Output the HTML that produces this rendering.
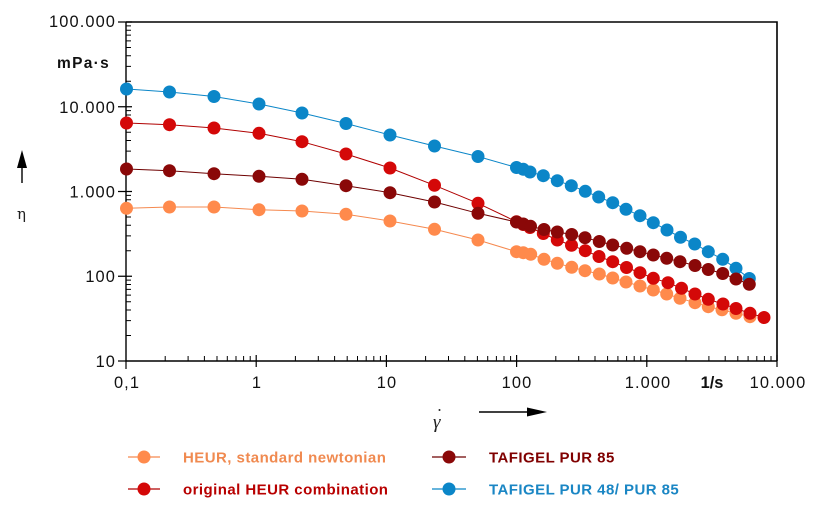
<!DOCTYPE html>
<html><head><meta charset="utf-8"><style>
html,body{margin:0;padding:0;background:#fff;width:824px;height:512px;overflow:hidden}
svg{display:block}
.tl{font-family:"Liberation Sans",Arial,sans-serif;font-size:16.4px;fill:#111;letter-spacing:1.1px}
.lg{font-family:"Liberation Sans",Arial,sans-serif;font-size:15px;font-weight:bold;letter-spacing:0.45px}
</style></head><body>
<svg width="824" height="512" viewBox="0 0 824 512" xmlns="http://www.w3.org/2000/svg">
<rect width="824" height="512" fill="#fff"/>
<!-- frame -->
<path d="M126 22 H777 V361" fill="none" stroke="#000" stroke-width="1.6"/>
<path d="M126 22 V361 H777" fill="none" stroke="#000" stroke-width="1.4"/>
<!-- y major ticks -->
<path d="M118 22h14M118 106.75h14M118 191.5h14M118 276.25h14M118 361h8" stroke="#000" stroke-width="1.2"/>
<!-- y minor ticks -->
<path stroke="#000" stroke-width="1" d="M126 335.5h5M126 320.6h5M126 310h5M126 301.8h5M126 295.1h5M126 289.4h5M126 284.5h5M126 280.1h5
M126 250.75h5M126 235.85h5M126 225.25h5M126 217.05h5M126 210.35h5M126 204.65h5M126 199.75h5M126 195.35h5
M126 166h5M126 151.1h5M126 140.5h5M126 132.3h5M126 125.6h5M126 119.9h5M126 115h5M126 110.6h5
M126 81.25h5M126 66.35h5M126 55.75h5M126 47.55h5M126 40.85h5M126 35.15h5M126 30.25h5M126 25.85h5"/>
<!-- x major ticks -->
<path d="M126 361v8M256.2 355v12M386.4 355v12M516.6 355v12M646.8 355v12M777 355v12" stroke="#000" stroke-width="1.2"/>
<!-- x minor ticks -->
<path stroke="#000" stroke-width="1" d="M165.2 361v-5M188.1 361v-5M204.4 361v-5M217 361v-5M227.3 361v-5M236 361v-5M243.6 361v-5M250.2 361v-5
M295.4 361v-5M318.3 361v-5M334.6 361v-5M347.2 361v-5M357.5 361v-5M366.2 361v-5M373.8 361v-5M380.4 361v-5
M425.6 361v-5M448.5 361v-5M464.8 361v-5M477.4 361v-5M487.7 361v-5M496.4 361v-5M504 361v-5M510.6 361v-5
M555.8 361v-5M578.7 361v-5M595 361v-5M607.6 361v-5M617.9 361v-5M626.6 361v-5M634.2 361v-5M640.8 361v-5
M686 361v-5M708.9 361v-5M725.2 361v-5M737.8 361v-5M748.1 361v-5M756.8 361v-5M764.4 361v-5M771 361v-5"/>
<!-- y tick labels -->
<g class="tl" text-anchor="end">
<text x="116" y="27">100.000</text>
<text x="116" y="113">10.000</text>
<text x="116" y="197.5">1.000</text>
<text x="116" y="282">100</text>
<text x="116" y="367">10</text>
</g>
<text x="57" y="68" font-family="Liberation Sans,Arial,sans-serif" font-size="15.5" font-weight="bold" letter-spacing="1.3" fill="#111">mPa·s</text>
<!-- x tick labels -->
<g class="tl" text-anchor="middle">
<text x="127" y="388">0,1</text>
<text x="257" y="388">1</text>
<text x="387" y="388">10</text>
<text x="517" y="388">100</text>
<text x="648" y="388">1.000</text>
<text x="778" y="388">10.000</text>
</g>
<text x="712" y="388" text-anchor="middle" font-family="Liberation Sans,Arial,sans-serif" font-size="16.4" font-weight="bold" fill="#111">1/s</text>
<!-- y axis symbol -->
<path d="M22 183V165" stroke="#000" stroke-width="1.4"/>
<path d="M17 168L22 150L27 168Z" fill="#000"/>
<text x="17" y="219" font-family="DejaVu Serif,Liberation Serif,serif" font-size="15" fill="#222">η</text>
<!-- x axis symbol -->
<text x="433" y="428" font-family="Liberation Serif,serif" font-style="italic" font-size="19" fill="#222">γ</text>
<circle cx="439.5" cy="410" r="1" fill="#222"/>
<path d="M479 412H530" stroke="#000" stroke-width="1.4"/>
<path d="M527 407.5L547 412L527 416.5Z" fill="#000"/>

<!-- series: orange -->
<g fill="#ff8a4c" stroke="none">
<polyline fill="none" stroke="#f5894f" stroke-width="1" points="126.5,208.3 169.5,207 214,207 259,209.7 302,211 346,214.3 390,221 434.5,229.3 478,240 516.5,251.7 523.3,252.7 530.7,254.3 544,259.3 557.3,263.3 571.7,267.3 585,270.7 599.3,274 612.7,278 626,282 640,286 653.3,290 666.7,294 680,298.3 695,302.7 708.3,306.7 722,309.8 736,313.3 750,316.7"/>
<circle cx="126.5" cy="208.3" r="6.5"/><circle cx="169.5" cy="207" r="6.5"/><circle cx="214" cy="207" r="6.5"/><circle cx="259" cy="209.7" r="6.5"/><circle cx="302" cy="211" r="6.5"/><circle cx="346" cy="214.3" r="6.5"/><circle cx="390" cy="221" r="6.5"/><circle cx="434.5" cy="229.3" r="6.5"/><circle cx="478" cy="240" r="6.5"/><circle cx="516.5" cy="251.7" r="6.5"/><circle cx="523.3" cy="252.7" r="6.5"/><circle cx="530.7" cy="254.3" r="6.5"/><circle cx="544" cy="259.3" r="6.5"/><circle cx="557.3" cy="263.3" r="6.5"/><circle cx="571.7" cy="267.3" r="6.5"/><circle cx="585" cy="270.7" r="6.5"/><circle cx="599.3" cy="274" r="6.5"/><circle cx="612.7" cy="278" r="6.5"/><circle cx="626" cy="282" r="6.5"/><circle cx="640" cy="286" r="6.5"/><circle cx="653.3" cy="290" r="6.5"/><circle cx="666.7" cy="294" r="6.5"/><circle cx="680" cy="298.3" r="6.5"/><circle cx="695" cy="302.7" r="6.5"/><circle cx="708.3" cy="306.7" r="6.5"/><circle cx="722" cy="309.8" r="6.5"/><circle cx="736" cy="313.3" r="6.5"/><circle cx="750" cy="316.7" r="6.5"/>
</g>
<!-- series: blue -->
<g fill="#0b86c8" stroke="none">
<polyline fill="none" stroke="#0b86c8" stroke-width="1" points="126.5,89 169.5,92 214,96.5 259,104 302,113 346,123.5 390,135 434.5,146 478,156.5 516.5,167.5 523.3,169.3 530,172 543.3,175.7 557.3,180.7 571.3,185.7 585.3,191.3 598.7,197 612.7,202.7 626,209.3 640,215.7 653.3,222.7 667,230 680.5,237.3 694.7,244 708.3,251.7 722.7,259.3 736,268.3 749.3,278.5"/>
<circle cx="126.5" cy="89" r="6.5"/><circle cx="169.5" cy="92" r="6.5"/><circle cx="214" cy="96.5" r="6.5"/><circle cx="259" cy="104" r="6.5"/><circle cx="302" cy="113" r="6.5"/><circle cx="346" cy="123.5" r="6.5"/><circle cx="390" cy="135" r="6.5"/><circle cx="434.5" cy="146" r="6.5"/><circle cx="478" cy="156.5" r="6.5"/><circle cx="516.5" cy="167.5" r="6.5"/><circle cx="523.3" cy="169.3" r="6.5"/><circle cx="530" cy="172" r="6.5"/><circle cx="543.3" cy="175.7" r="6.5"/><circle cx="557.3" cy="180.7" r="6.5"/><circle cx="571.3" cy="185.7" r="6.5"/><circle cx="585.3" cy="191.3" r="6.5"/><circle cx="598.7" cy="197" r="6.5"/><circle cx="612.7" cy="202.7" r="6.5"/><circle cx="626" cy="209.3" r="6.5"/><circle cx="640" cy="215.7" r="6.5"/><circle cx="653.3" cy="222.7" r="6.5"/><circle cx="667" cy="230" r="6.5"/><circle cx="680.5" cy="237.3" r="6.5"/><circle cx="694.7" cy="244" r="6.5"/><circle cx="708.3" cy="251.7" r="6.5"/><circle cx="722.7" cy="259.3" r="6.5"/><circle cx="736" cy="268.3" r="6.5"/><circle cx="749.3" cy="278.5" r="6.5"/>
</g>
<!-- series: red -->
<g fill="#d40808" stroke="none">
<polyline fill="none" stroke="#b00000" stroke-width="1" points="126.5,123 169.5,124.7 214,128 259,133.3 302,141.7 346,154 390,168 434.5,185.3 478,203.3 516.5,221.7 523.3,224.5 530,227.5 543.3,233.5 557.3,240 571.5,245.3 585.3,250.7 599,256.5 612.7,261.7 626.5,267.5 640,272.7 653.3,278.3 668,282.7 681.5,288.3 695,294 708.3,299.3 723,304 736,308.5 750,313.3 764,317.5"/>
<circle cx="126.5" cy="123" r="6.5"/><circle cx="169.5" cy="124.7" r="6.5"/><circle cx="214" cy="128" r="6.5"/><circle cx="259" cy="133.3" r="6.5"/><circle cx="302" cy="141.7" r="6.5"/><circle cx="346" cy="154" r="6.5"/><circle cx="390" cy="168" r="6.5"/><circle cx="434.5" cy="185.3" r="6.5"/><circle cx="478" cy="203.3" r="6.5"/><circle cx="516.5" cy="221.7" r="6.5"/><circle cx="523.3" cy="224.5" r="6.5"/><circle cx="530" cy="227.5" r="6.5"/><circle cx="543.3" cy="233.5" r="6.5"/><circle cx="557.3" cy="240" r="6.5"/><circle cx="571.5" cy="245.3" r="6.5"/><circle cx="585.3" cy="250.7" r="6.5"/><circle cx="599" cy="256.5" r="6.5"/><circle cx="612.7" cy="261.7" r="6.5"/><circle cx="626.5" cy="267.5" r="6.5"/><circle cx="640" cy="272.7" r="6.5"/><circle cx="653.3" cy="278.3" r="6.5"/><circle cx="668" cy="282.7" r="6.5"/><circle cx="681.5" cy="288.3" r="6.5"/><circle cx="695" cy="294" r="6.5"/><circle cx="708.3" cy="299.3" r="6.5"/><circle cx="723" cy="304" r="6.5"/><circle cx="736" cy="308.5" r="6.5"/><circle cx="750" cy="313.3" r="6.5"/><circle cx="764" cy="317.5" r="6.5"/>
</g>
<!-- series: dark red -->
<g fill="#8a0808" stroke="none">
<polyline fill="none" stroke="#6e0000" stroke-width="1" points="126.5,169 169.5,170.7 214,173.7 259,176.3 302,179.3 346,185.7 390,192.7 434.5,202 478,213.3 516.5,222 523.3,224 530.5,226.3 544,229.5 557.3,232 571.7,234.5 585,237.7 599.3,241.5 612.7,245 626.7,248.3 640,251.7 653.3,255 666.7,258.3 680,261.7 695,265.5 708.3,269.5 722.7,273.5 736,279 749.3,284.3"/>
<circle cx="126.5" cy="169" r="6.5"/><circle cx="169.5" cy="170.7" r="6.5"/><circle cx="214" cy="173.7" r="6.5"/><circle cx="259" cy="176.3" r="6.5"/><circle cx="302" cy="179.3" r="6.5"/><circle cx="346" cy="185.7" r="6.5"/><circle cx="390" cy="192.7" r="6.5"/><circle cx="434.5" cy="202" r="6.5"/><circle cx="478" cy="213.3" r="6.5"/><circle cx="516.5" cy="222" r="6.5"/><circle cx="523.3" cy="224" r="6.5"/><circle cx="530.5" cy="226.3" r="6.5"/><circle cx="544" cy="229.5" r="6.5"/><circle cx="557.3" cy="232" r="6.5"/><circle cx="571.7" cy="234.5" r="6.5"/><circle cx="585" cy="237.7" r="6.5"/><circle cx="599.3" cy="241.5" r="6.5"/><circle cx="612.7" cy="245" r="6.5"/><circle cx="626.7" cy="248.3" r="6.5"/><circle cx="640" cy="251.7" r="6.5"/><circle cx="653.3" cy="255" r="6.5"/><circle cx="666.7" cy="258.3" r="6.5"/><circle cx="680" cy="261.7" r="6.5"/><circle cx="695" cy="265.5" r="6.5"/><circle cx="708.3" cy="269.5" r="6.5"/><circle cx="722.7" cy="273.5" r="6.5"/><circle cx="736" cy="279" r="6.5"/><circle cx="749.3" cy="284.3" r="6.5"/>
</g>

<!-- legend -->
<path d="M128 457H160" stroke="#f5894f" stroke-width="1.2"/><circle cx="144" cy="457" r="6.5" fill="#ff8a4c"/>
<path d="M128 489H160" stroke="#b00000" stroke-width="1.2"/><circle cx="144" cy="489" r="6.5" fill="#d40808"/>
<path d="M432 457H466" stroke="#6e0000" stroke-width="1.2"/><circle cx="449" cy="457" r="6.5" fill="#8a0808"/>
<path d="M432 489H466" stroke="#0b86c8" stroke-width="1.2"/><circle cx="449" cy="489" r="6.5" fill="#0b86c8"/>
<text class="lg" x="183" y="462.5" fill="#f08a50">HEUR, standard newtonian</text>
<text class="lg" x="183" y="494.5" fill="#b80000">original HEUR combination</text>
<text class="lg" x="489" y="462.5" fill="#800000">TAFIGEL PUR 85</text>
<text class="lg" x="489" y="494.5" fill="#1a86c4">TAFIGEL PUR 48/ PUR 85</text>
</svg>
</body></html>
